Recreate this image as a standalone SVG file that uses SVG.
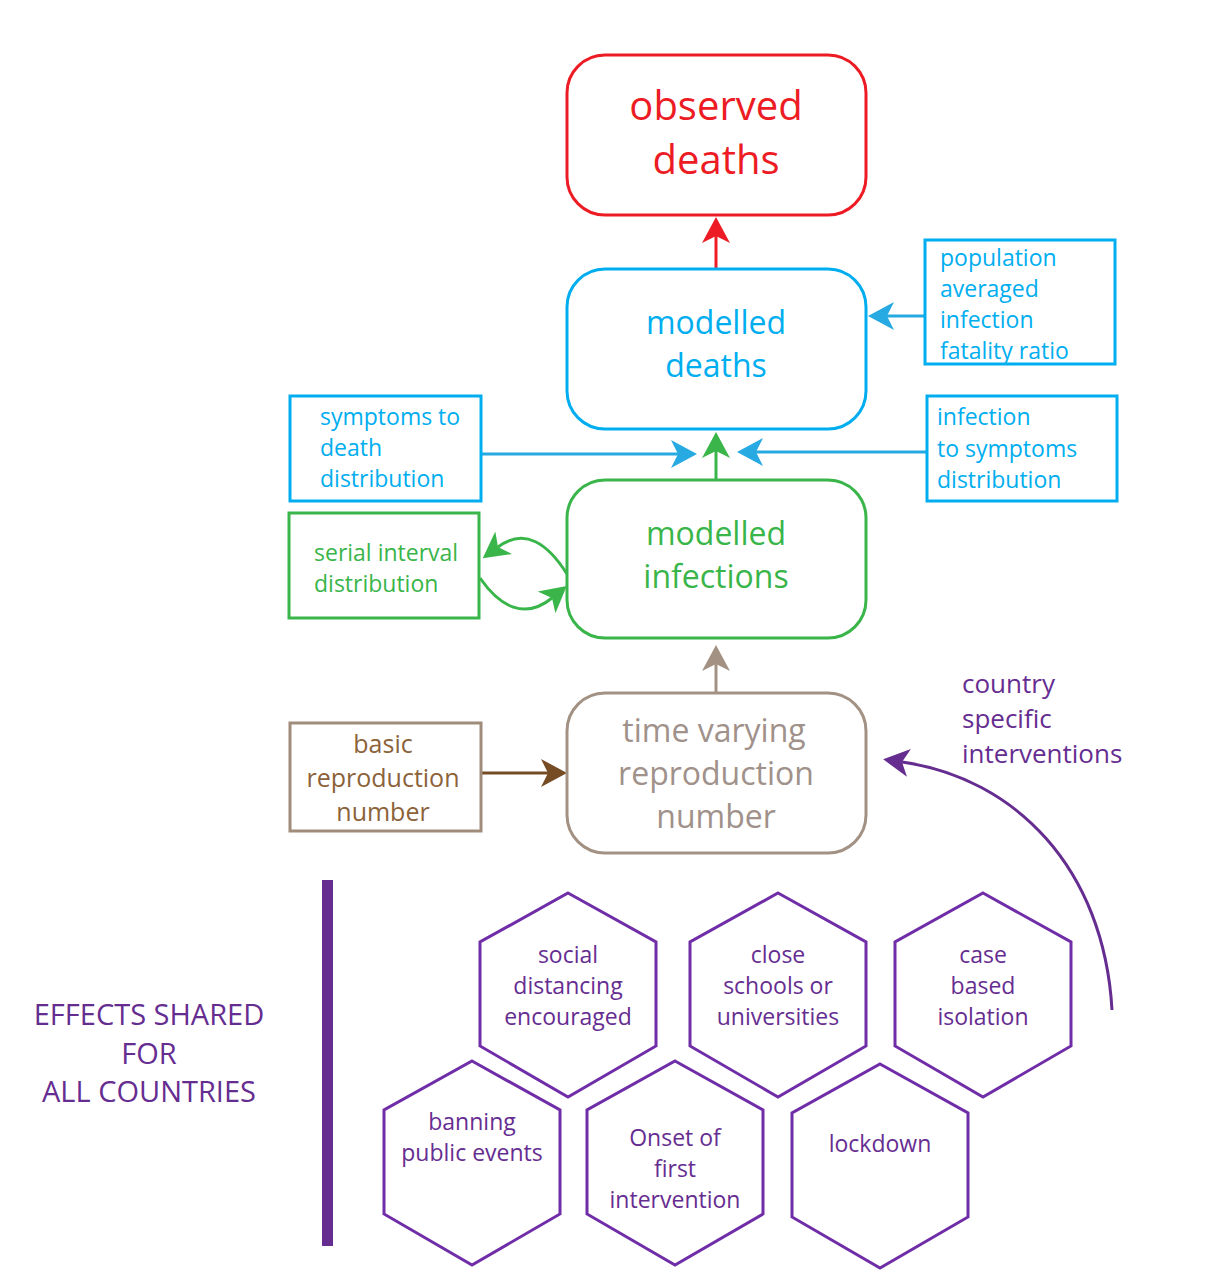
<svg xmlns="http://www.w3.org/2000/svg" width="1205" height="1286" viewBox="0 0 1205 1286">
<defs>
<style>
text{font-family:"Open Sans","Liberation Sans",sans-serif;}
.big{font-size:40px;}
.mid{font-size:32px;text-anchor:middle;}
.sm{font-size:23px;}
.hx{font-size:23px;text-anchor:middle;fill:#662d91;}
.box{fill:none;stroke-width:3;}
.ln{fill:none;stroke-width:3;}
.hex{fill:none;stroke:#6f2da8;stroke-width:3;}
</style>
<marker id="aR" viewBox="0 0 28 30" markerWidth="28" markerHeight="30" refX="7" refY="15" orient="auto" markerUnits="userSpaceOnUse"><path d="M26,15 L0,1 L7,15 L0,29 Z" fill="#ed1c24"/></marker>
<marker id="aB" viewBox="0 0 28 30" markerWidth="28" markerHeight="30" refX="7" refY="15" orient="auto" markerUnits="userSpaceOnUse"><path d="M26,15 L0,1 L7,15 L0,29 Z" fill="#27aae1"/></marker>
<marker id="aG" viewBox="0 0 28 30" markerWidth="28" markerHeight="30" refX="7" refY="15" orient="auto" markerUnits="userSpaceOnUse"><path d="M26,15 L0,1 L7,15 L0,29 Z" fill="#39b54a"/></marker>
<marker id="aT" viewBox="0 0 28 30" markerWidth="28" markerHeight="30" refX="7" refY="15" orient="auto" markerUnits="userSpaceOnUse"><path d="M26,15 L0,1 L7,15 L0,29 Z" fill="#a39284"/></marker>
<marker id="aBr" viewBox="0 0 28 30" markerWidth="28" markerHeight="30" refX="7" refY="15" orient="auto" markerUnits="userSpaceOnUse"><path d="M26,15 L0,1 L7,15 L0,29 Z" fill="#754c24"/></marker>
<marker id="aP" viewBox="0 0 28 30" markerWidth="28" markerHeight="30" refX="7" refY="15" orient="auto" markerUnits="userSpaceOnUse"><path d="M26,15 L0,1 L7,15 L0,29 Z" fill="#662d91"/></marker>
</defs>
<rect width="1205" height="1286" fill="#ffffff"/>

<g id="connectors">
<line class="ln" x1="716" y1="268" x2="716" y2="236" stroke="#ed1c24" marker-end="url(#aR)"/>
<line class="ln" x1="716" y1="480" x2="716" y2="451" stroke="#39b54a" marker-end="url(#aG)"/>
<line class="ln" x1="481" y1="454" x2="678" y2="454" stroke="#27aae1" marker-end="url(#aB)"/>
<line class="ln" x1="927" y1="452" x2="756" y2="452" stroke="#27aae1" marker-end="url(#aB)"/>
<line class="ln" x1="925" y1="316" x2="887" y2="316" stroke="#27aae1" marker-end="url(#aB)"/>
<path class="ln" d="M567,574 C548,544 525,527 498,547" stroke="#39b54a" marker-end="url(#aG)"/>
<path class="ln" d="M480,578 C500,607 525,620 552,598" stroke="#39b54a" marker-end="url(#aG)"/>
<line class="ln" x1="716" y1="693" x2="716" y2="664" stroke="#a39284" marker-end="url(#aT)"/>
<line class="ln" x1="481" y1="773" x2="548" y2="773" stroke="#754c24" marker-end="url(#aBr)"/>
<path class="ln" d="M1112,1010 C1104,868 1015,778 902,762" stroke="#662d91" marker-end="url(#aP)"/>
</g>

<g id="observed-deaths">
<rect class="box" x="567" y="55" width="299" height="160" rx="38" stroke="#ed1c24"/>
<text class="big" x="716" y="120" text-anchor="middle" fill="#ed1c24">observed</text>
<text class="big" x="716" y="174" text-anchor="middle" fill="#ed1c24">deaths</text>
</g>

<g id="modelled-deaths">
<rect class="box" x="567" y="269" width="299" height="160" rx="38" stroke="#00aeef"/>
<text class="mid" x="716" y="334" fill="#00aeef">modelled</text>
<text class="mid" x="716" y="377" fill="#00aeef">deaths</text>
</g>

<g id="ifr">
<rect class="box" x="925" y="240" width="190" height="124" stroke="#00aeef"/>
<text class="sm" x="940" y="266" fill="#00aeef">population</text>
<text class="sm" x="940" y="297" fill="#00aeef">averaged</text>
<text class="sm" x="940" y="328" fill="#00aeef">infection</text>
<text class="sm" x="940" y="359" fill="#00aeef">fatality ratio</text>
</g>

<g id="symptoms-to-death">
<rect class="box" x="290" y="396" width="191" height="105" stroke="#00aeef"/>
<text class="sm" x="320" y="425" fill="#00aeef">symptoms to</text>
<text class="sm" x="320" y="456" fill="#00aeef">death</text>
<text class="sm" x="320" y="487" fill="#00aeef">distribution</text>
</g>

<g id="infection-to-symptoms">
<rect class="box" x="927" y="396" width="190" height="105" stroke="#00aeef"/>
<text class="sm" x="937" y="425" fill="#00aeef">infection</text>
<text class="sm" x="937" y="457" fill="#00aeef">to symptoms</text>
<text class="sm" x="937" y="488" fill="#00aeef">distribution</text>
</g>

<g id="modelled-infections">
<rect class="box" x="567" y="480" width="299" height="158" rx="38" stroke="#39b54a"/>
<text class="mid" x="716" y="545" fill="#39b54a">modelled</text>
<text class="mid" x="716" y="588" fill="#39b54a">infections</text>
</g>

<g id="serial-interval">
<rect class="box" x="289" y="513" width="190" height="105" stroke="#39b54a"/>
<text class="sm" x="314" y="561" fill="#39b54a">serial interval</text>
<text class="sm" x="314" y="592" fill="#39b54a">distribution</text>
</g>

<g id="time-varying-r">
<rect class="box" x="567" y="693" width="299" height="160" rx="38" stroke="#a39284"/>
<text class="mid" x="714" y="742" fill="#a0918a">time varying</text>
<text class="mid" x="716" y="785" fill="#a0918a">reproduction</text>
<text class="mid" x="716" y="828" fill="#a0918a">number</text>
</g>

<g id="basic-r">
<rect class="box" x="290" y="723" width="191" height="108" stroke="#a08c7a"/>
<text x="383" y="753" font-size="25" text-anchor="middle" fill="#8b6239">basic</text>
<text x="383" y="787" font-size="25" text-anchor="middle" fill="#8b6239">reproduction</text>
<text x="383" y="821" font-size="25" text-anchor="middle" fill="#8b6239">number</text>
</g>

<g id="country-specific">
<text x="962" y="693" font-size="26" fill="#662d91">country</text>
<text x="962" y="728" font-size="26" fill="#662d91">specific</text>
<text x="962" y="763" font-size="26" fill="#662d91">interventions</text>
</g>

<g id="effects-shared">
<rect x="322" y="880" width="11" height="366" fill="#662d91"/>
<text x="149" y="1025" font-size="29" text-anchor="middle" fill="#662d91">EFFECTS SHARED</text>
<text x="149" y="1064" font-size="29" text-anchor="middle" fill="#662d91">FOR</text>
<text x="149" y="1102" font-size="29" text-anchor="middle" fill="#662d91">ALL COUNTRIES</text>
</g>

<g id="hex-social-distancing">
<path class="hex" d="M568,893 L656,942 L656,1046 L568,1097 L480,1046 L480,942 Z"/>
<text class="hx" x="568" y="963">social</text>
<text class="hx" x="568" y="994">distancing</text>
<text class="hx" x="568" y="1025">encouraged</text>
</g>

<g id="hex-close-schools">
<path class="hex" d="M778,893 L866,942 L866,1046 L778,1097 L690,1046 L690,942 Z"/>
<text class="hx" x="778" y="963">close</text>
<text class="hx" x="778" y="994">schools or</text>
<text class="hx" x="778" y="1025">universities</text>
</g>

<g id="hex-case-isolation">
<path class="hex" d="M983,893 L1071,942 L1071,1046 L983,1097 L895,1046 L895,942 Z"/>
<text class="hx" x="983" y="963">case</text>
<text class="hx" x="983" y="994">based</text>
<text class="hx" x="983" y="1025">isolation</text>
</g>

<g id="hex-banning-events">
<path class="hex" d="M472,1061 L560,1110 L560,1214 L472,1265 L384,1214 L384,1110 Z"/>
<text class="hx" x="472" y="1130">banning</text>
<text class="hx" x="472" y="1161">public events</text>
</g>

<g id="hex-onset">
<path class="hex" d="M675,1061 L763,1110 L763,1214 L675,1265 L587,1214 L587,1110 Z"/>
<text class="hx" x="675" y="1146">Onset of</text>
<text class="hx" x="675" y="1177">first</text>
<text class="hx" x="675" y="1208">intervention</text>
</g>

<g id="hex-lockdown">
<path class="hex" d="M880,1064 L968,1113 L968,1217 L880,1268 L792,1217 L792,1113 Z"/>
<text class="hx" x="880" y="1152">lockdown</text>
</g>
</svg>
